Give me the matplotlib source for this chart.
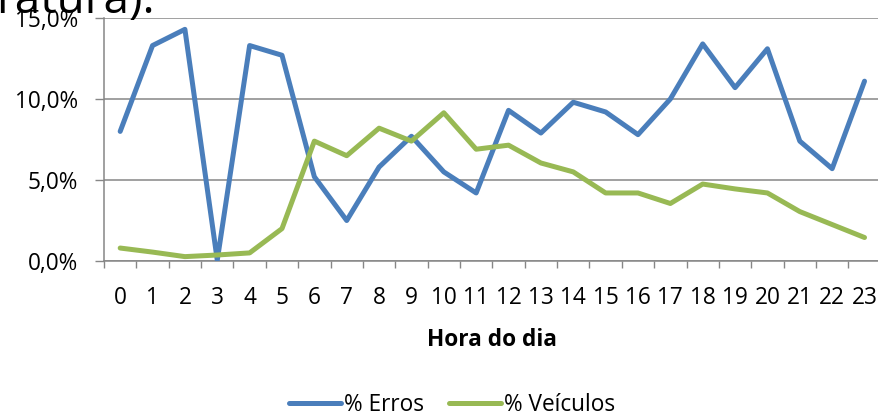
import matplotlib
matplotlib.use('Agg')
import matplotlib.pyplot as plt
from matplotlib.ticker import FixedLocator, NullFormatter

plt.rcParams['font.family'] = ['Open Sans', 'DejaVu Sans']

horas = list(range(24))
erros = [8.0, 13.3, 14.3, 0.05, 13.3, 12.7, 5.2, 2.5, 5.8, 7.7, 5.5, 4.2,
         9.3, 7.9, 9.8, 9.2, 7.8, 10.0, 13.4, 10.7, 13.1, 7.4, 5.7, 11.1]
veiculos = [0.8, 0.55, 0.27, 0.37, 0.5, 2.0, 7.4, 6.5, 8.2, 7.4, 9.15, 6.9,
            7.15, 6.05, 5.5, 4.2, 4.2, 3.55, 4.75, 4.45, 4.2, 3.05, 2.25, 1.45]
y_ticks = [0, 5, 10, 15]
y_labels = ['0,0%', '5,0%', '10,0%', '15,0%']

azul = '#4a7ebb'
verde = '#98b954'
cinza = '#868686'
fs = 16.3

fig = plt.figure(figsize=(8.79, 4.18), dpi=100)
ax = fig.add_axes([104 / 879, 1 - 261 / 418, 776.7 / 879, 243 / 418])

ax.plot(horas, erros, color=azul, lw=3.6, solid_capstyle='round',
        solid_joinstyle='round', label='% Erros', zorder=3)
ax.plot(horas, veiculos, color=verde, lw=3.6, solid_capstyle='round',
        solid_joinstyle='round', label='% Veículos', zorder=3)

ax.set_xlim(-0.5, 23.5)
ax.set_ylim(0, 15)

# ticks on category boundaries, labels at category centres
ax.xaxis.set_major_locator(FixedLocator([i - 0.5 for i in range(25)]))
ax.xaxis.set_major_formatter(NullFormatter())
ax.xaxis.set_minor_locator(FixedLocator(horas))
ax.set_xticklabels([str(h) for h in horas], minor=True)
ax.tick_params(axis='x', which='major', direction='out', length=5,
               width=1, color=cinza)
ax.tick_params(axis='x', which='minor', length=0, pad=18, labelsize=fs)

ax.set_yticks(y_ticks)
ax.set_yticklabels(y_labels)
ax.tick_params(axis='y', direction='out', length=6.5, width=1, color=cinza,
               pad=12, labelsize=fs)

ax.yaxis.grid(True, color=cinza, lw=1.1)
ax.set_axisbelow(True)
for s in ['top', 'right']:
    ax.spines[s].set_visible(False)
for s in ['left', 'bottom']:
    ax.spines[s].set_color(cinza)
    ax.spines[s].set_linewidth(1.1)

ax.set_xlabel('Hora do dia', fontsize=fs, fontweight='bold', labelpad=13)

fig.legend(loc='center', bbox_to_anchor=(452 / 879, 1 - 405 / 418), ncol=2,
           frameon=False, fontsize=fs, handlelength=2.3, handletextpad=0.15,
           columnspacing=1.1)

# leftover text from the surrounding document, cut at the top
fig.text(-0.004, 1 - 12.5 / 418, 'ratura).', fontsize=33, va='baseline',
         ha='left')

fig.savefig('out.png', dpi=100)
